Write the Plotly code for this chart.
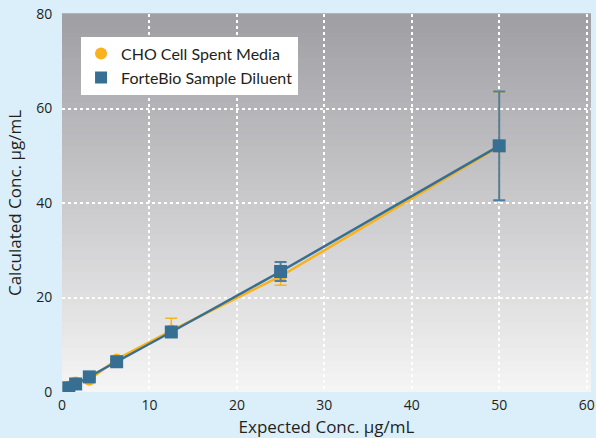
import plotly.graph_objects as go

# expected concentrations (µg/mL)
expected = [0.78, 1.56, 3.125, 6.25, 12.5, 25, 50]

# CHO cell spent media
cho_calc = [1.1, 2.0, 2.6, 6.9, 13.0, 24.5, 51.9]
cho_err_plus = [0.3, 0.4, 0.4, 0.6, 2.6, 1.6, 11.4]
cho_err_minus = [0.3, 0.4, 0.4, 0.6, 1.4, 1.9, 11.4]

# ForteBio sample diluent
fb_calc = [0.9, 1.7, 3.2, 6.4, 12.7, 25.5, 52.1]
fb_err = [0.2, 0.3, 0.3, 0.4, 0.6, 2.0, 11.5]

x_ticks = [0, 10, 20, 30, 40, 50, 60]
y_ticks = [0, 20, 40, 60, 80]

ORANGE = '#f9b21b'
BLUE = '#376f92'
FONT = 'Open Sans'
TEXT = '#231f20'

fig = go.Figure()

# data traces (legend handled by marker-only entries below)
fig.add_trace(go.Scatter(
    x=expected, y=cho_calc,
    mode='lines+markers', showlegend=False,
    line=dict(color=ORANGE, width=2.5),
    marker=dict(color=ORANGE, size=12, symbol='circle'),
    error_y=dict(type='data', array=cho_err_plus, arrayminus=cho_err_minus,
                 color=ORANGE, thickness=1.5, width=6),
))
fig.add_trace(go.Scatter(
    x=expected, y=fb_calc,
    mode='lines+markers', showlegend=False,
    line=dict(color=BLUE, width=2.5),
    marker=dict(color=BLUE, size=13, symbol='square'),
    error_y=dict(type='data', array=fb_err, color='#4f7fa0', thickness=2, width=6),
))

# legend entries: markers only, like the original
fig.add_trace(go.Scatter(x=[None], y=[None], mode='markers', name='CHO Cell Spent Media',
                         marker=dict(color=ORANGE, size=12, symbol='circle')))
fig.add_trace(go.Scatter(x=[None], y=[None], mode='markers', name='ForteBio Sample Diluent',
                         marker=dict(color=BLUE, size=12, symbol='square')))

# vertical gradient behind the plot area (grey at top -> near white at bottom)
n_steps = 60
top_rgb = (160, 159, 164)
bot_rgb = (245, 245, 245)
for i in range(n_steps):
    t = i / (n_steps - 1)
    r = int(bot_rgb[0] + (top_rgb[0] - bot_rgb[0]) * t)
    g = int(bot_rgb[1] + (top_rgb[1] - bot_rgb[1]) * t)
    b = int(bot_rgb[2] + (top_rgb[2] - bot_rgb[2]) * t)
    fig.add_shape(type='rect', xref='x domain', yref='y domain',
                  x0=0, x1=1, y0=i / n_steps, y1=(i + 1) / n_steps + 0.002,
                  fillcolor=f'rgb({r},{g},{b})', line_width=0, layer='below')

fig.update_layout(
    width=596, height=438,
    margin=dict(l=62, r=5, t=14, b=46, autoexpand=False),
    paper_bgcolor='#dbeffa',
    plot_bgcolor='rgba(0,0,0,0)',
    font=dict(family=FONT, size=14, color=TEXT),
    legend=dict(
        x=0.036, y=0.94, xanchor='left', yanchor='top',
        bgcolor='white', borderwidth=0,
        font=dict(family='Lato', size=16, color=TEXT),
        itemsizing='trace',
    ),
)

fig.update_xaxes(
    range=[0, 60.5], tickvals=x_ticks, automargin=False,
    showgrid=True, gridcolor='white', griddash='dot', gridwidth=1.5,
    zeroline=False, showline=False,
    ticks='outside', ticklen=0, tickcolor='rgba(0,0,0,0)',
    tickfont=dict(size=14),
    title=dict(text='Expected Conc. µg/mL', font=dict(size=17), standoff=9),
)
fig.update_yaxes(
    range=[0, 80], tickvals=y_ticks, automargin=False,
    showgrid=True, gridcolor='white', griddash='dot', gridwidth=1.5,
    zeroline=False, showline=False,
    ticks='outside', ticklen=6, tickcolor='rgba(0,0,0,0)',
    tickfont=dict(size=14),
    title=dict(text='Calculated Conc. µg/mL', font=dict(size=17), standoff=10),
)

# drop the default page margin so the figure sits at the window's corner
fig.write_html('out.html', config={'displayModeBar': False},
               post_script="document.body.style.margin='0';")
